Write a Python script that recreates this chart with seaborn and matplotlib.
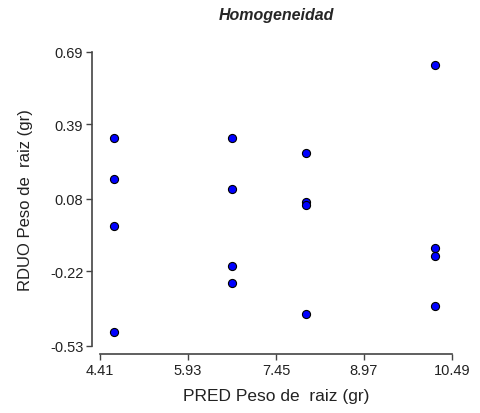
import matplotlib
matplotlib.use("Agg")
import matplotlib.pyplot as plt
import seaborn as sns
import pandas as pd

pred = [4.65, 4.65, 4.65, 4.65,
        6.69, 6.69, 6.69, 6.69,
        7.97, 7.97, 7.97, 7.97,
        10.20, 10.20, 10.20, 10.20]
rduo = [0.334, 0.163, -0.032, -0.473,
        0.334, 0.121, -0.197, -0.269,
        0.270, 0.069, 0.055, -0.397,
        0.636, -0.125, -0.157, -0.363]
xticks = [4.41, 5.93, 7.45, 8.97, 10.49]
yticks = [-0.53, -0.22, 0.08, 0.39, 0.69]

df = pd.DataFrame({"pred": pred, "rduo": rduo})

sns.set_style("ticks")
plt.rcParams['font.family'] = ['Liberation Sans', 'DejaVu Sans']

fig = plt.figure(figsize=(4.81, 4.14), dpi=100)
ax = fig.add_axes([100/481, 67/414, 352/481, 294/414])
sns.scatterplot(data=df, x="pred", y="rduo", ax=ax, s=34, color="#0000ff",
                edgecolor="black", linewidth=0.8, zorder=3, clip_on=False)
ax.set_xlim(xticks[0], xticks[-1])
ax.set_ylim(yticks[0], yticks[-1])
ax.set_xticks(xticks)
ax.set_xticklabels([f"{v:.2f}" for v in xticks])
ax.set_yticks(yticks)
ax.set_yticklabels([f"{v:.2f}" for v in yticks])
for side in ("top", "right"):
    ax.spines[side].set_visible(False)
ax.spines["left"].set_position(("outward", 6))
ax.spines["bottom"].set_position(("outward", 6))
for side in ("left", "bottom"):
    ax.spines[side].set_color("#444444")
    ax.spines[side].set_linewidth(1.2)
ax.tick_params(direction="out", length=4, width=1, color="#444444",
               labelsize=10.5, pad=2, labelcolor="#222222")
ax.set_xlabel("PRED Peso de  raiz (gr)", fontsize=12.5, color="#222222", labelpad=8)
ax.set_ylabel("RDUO Peso de  raiz (gr)", fontsize=12, color="#222222", labelpad=12)
ax.set_title("Homogeneidad", fontsize=11.5, fontweight="bold", fontstyle="italic",
             pad=24)
fig.savefig("out.png", dpi=100)
